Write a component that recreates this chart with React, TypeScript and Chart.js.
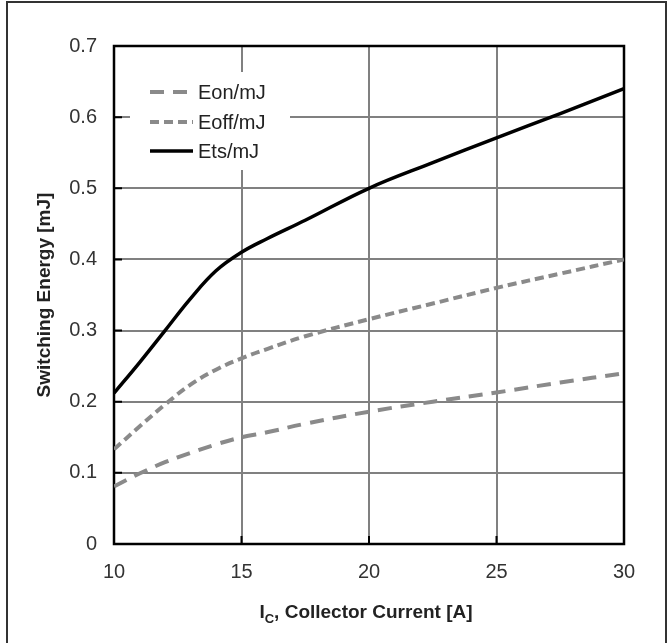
import React, { useEffect, useRef } from "react";
import { Chart, registerables } from "chart.js";

Chart.register(...registerables);

const currents = [10, 11, 12, 13, 14, 15, 16, 17.5, 20, 22.5, 25, 27.5, 30];
const eon = [0.081, 0.099, 0.115, 0.128, 0.140, 0.150, 0.157, 0.169, 0.186, 0.200, 0.213, 0.227, 0.240];
const eoff = [0.133, 0.165, 0.196, 0.224, 0.245, 0.261, 0.274, 0.292, 0.316, 0.338, 0.360, 0.380, 0.400];
const ets = [0.212, 0.255, 0.300, 0.345, 0.384, 0.410, 0.429, 0.455, 0.500, 0.536, 0.571, 0.605, 0.640];
const seriesNames = ["Eon/mJ", "Eoff/mJ", "Ets/mJ"];
const yTitle = "Switching Energy [mJ]";
const xTitleMain = "I";
const xTitleSub = "C";
const xTitleRest = ", Collector Current [A]";

const FONT = "'Liberation Sans', Arial, sans-serif";
const GRAY = "#8a8a8a";

const framePlugin = {
  id: "frame",
  beforeDatasetsDraw(chart: any) {
    const { ctx, chartArea: a, scales } = chart;
    ctx.save();
    ctx.strokeStyle = "#000";
    ctx.lineWidth = 2.5;
    ctx.strokeRect(a.left, a.top, a.right - a.left, a.bottom - a.top);
    ctx.lineWidth = 2;
    ctx.beginPath();
    scales.y.ticks.forEach((t: any) => {
      const p = scales.y.getPixelForValue(t.value);
      ctx.moveTo(a.left, p);
      ctx.lineTo(a.left + 8, p);
    });
    scales.x.ticks.forEach((t: any) => {
      const p = scales.x.getPixelForValue(t.value);
      ctx.moveTo(p, a.bottom);
      ctx.lineTo(p, a.bottom - 8);
    });
    ctx.stroke();
    ctx.restore();
  },
  afterDraw(chart: any) {
    const { ctx, chartArea: a } = chart;
    ctx.save();
    ctx.fillStyle = "#fff";
    ctx.fillRect(a.left + 16, a.top + 26, 160, 98);
    const rows = [a.top + 46, a.top + 76, a.top + 105];
    chart.data.datasets.forEach((ds: any, i: number) => {
      const y = rows[i];
      ctx.strokeStyle = ds.borderColor;
      ctx.lineWidth = ds.borderWidth;
      ctx.setLineDash(ds.borderDash || []);
      ctx.beginPath();
      ctx.moveTo(a.left + 36, y);
      ctx.lineTo(a.left + 79, y);
      ctx.stroke();
      ctx.setLineDash([]);
      ctx.fillStyle = "#222";
      ctx.font = `20px ${FONT}`;
      ctx.textBaseline = "middle";
      ctx.textAlign = "left";
      ctx.fillText(ds.label, a.left + 84, y + 1);
    });
    const bold = `bold 19px ${FONT}`;
    const subFont = `bold 13px ${FONT}`;
    ctx.font = bold;
    const w1 = ctx.measureText(xTitleMain).width;
    const w3 = ctx.measureText(xTitleRest).width;
    ctx.font = subFont;
    const w2 = ctx.measureText(xTitleSub).width;
    const total = w1 + w2 + w3;
    let x = (a.left + a.right) / 2 - total / 2 - 3;
    const y = 613;
    ctx.fillStyle = "#222";
    ctx.textAlign = "left";
    ctx.textBaseline = "middle";
    ctx.font = bold;
    ctx.fillText(xTitleMain, x, y);
    x += w1;
    ctx.font = subFont;
    ctx.fillText(xTitleSub, x, y + 6);
    x += w2;
    ctx.font = bold;
    ctx.fillText(xTitleRest, x, y);
    ctx.restore();
  },
};

export default function App() {
  const ref = useRef<HTMLCanvasElement>(null);
  useEffect(() => {
    if (!ref.current) return;
    const mk = (vals: number[]) => currents.map((c, i) => ({ x: c, y: vals[i] }));
    const chart = new Chart(ref.current, {
      type: "line",
      data: {
        datasets: [
          { label: seriesNames[0], data: mk(eon), borderColor: GRAY, borderWidth: 4, borderDash: [14, 9], pointRadius: 0, tension: 0.4, fill: false },
          { label: seriesNames[1], data: mk(eoff), borderColor: GRAY, borderWidth: 4, borderDash: [9, 5], pointRadius: 0, tension: 0.4, fill: false },
          { label: seriesNames[2], data: mk(ets), borderColor: "#000", borderWidth: 3.5, pointRadius: 0, tension: 0.4, fill: false },
        ],
      },
      options: {
        animation: false,
        responsive: false,
        devicePixelRatio: 1,
        layout: { padding: { left: 0, top: 46, right: 43, bottom: 0 } },
        plugins: { legend: { display: false }, tooltip: { enabled: false } },
        scales: {
          x: {
            type: "linear",
            min: 10,
            max: 30,
            afterFit: (s: any) => { s.height = 99; },
            ticks: { stepSize: 5, padding: 16, color: "#333", font: { family: FONT, size: 20 } },
            grid: { color: "#808080", lineWidth: 2, drawTicks: false },
            border: { display: false },
          },
          y: {
            min: 0,
            max: 0.7,
            afterFit: (s: any) => { s.width = 114; },
            ticks: { stepSize: 0.1, padding: 17, color: "#333", font: { family: FONT, size: 20 }, callback: (v: any) => (v === 0 ? "0" : Number(v).toFixed(1)) },
            grid: { color: "#808080", lineWidth: 2, drawTicks: false },
            border: { display: false },
            title: { display: true, text: yTitle, color: "#222", font: { family: FONT, size: 19, weight: "bold" }, padding: { top: 33, bottom: 0 } },
          },
        },
      },
      plugins: [framePlugin],
    } as any);
    return () => chart.destroy();
  }, []);
  return (
    <div style={{ position: "absolute", left: 0, top: 0, width: 667, height: 643, overflow: "hidden", background: "#fff" }}>
      <div style={{ position: "absolute", left: 6, top: 1, width: 657, height: 700, borderLeft: "2px solid #333", borderTop: "2px solid #333", borderRight: "2px solid #333" }} />
      <canvas ref={ref} width={667} height={643} style={{ position: "absolute", left: 0, top: 0 }} />
    </div>
  );
}
